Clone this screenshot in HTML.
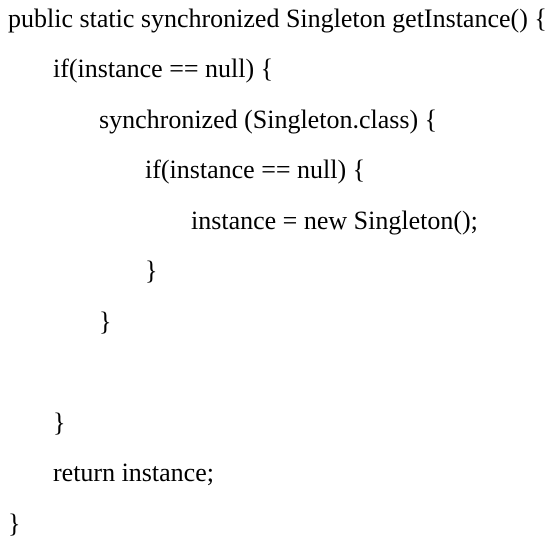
<!DOCTYPE html>
<html><head><meta charset="utf-8"><style>
html,body{margin:0;padding:0;background:#fff;}
body{width:547px;height:543px;position:relative;overflow:hidden;font-family:"Liberation Serif",serif;font-size:26px;color:#000;}
.l{position:absolute;white-space:pre;line-height:26px;}
</style></head><body>
<div class="l" style="left:8px;top:6px">public static synchronized Singleton getInstance() {</div>
<div class="l" style="left:53px;top:56px">if(instance == null) {</div>
<div class="l" style="left:99px;top:107px">synchronized (Singleton.class) {</div>
<div class="l" style="left:145px;top:157px">if(instance == null) {</div>
<div class="l" style="left:191px;top:208px">instance = new Singleton();</div>
<div class="l" style="left:145px;top:258px">}</div>
<div class="l" style="left:99px;top:309px">}</div>
<div class="l" style="left:53px;top:410px">}</div>
<div class="l" style="left:53px;top:460px">return instance;</div>
<div class="l" style="left:8px;top:511px">}</div>
</body></html>
